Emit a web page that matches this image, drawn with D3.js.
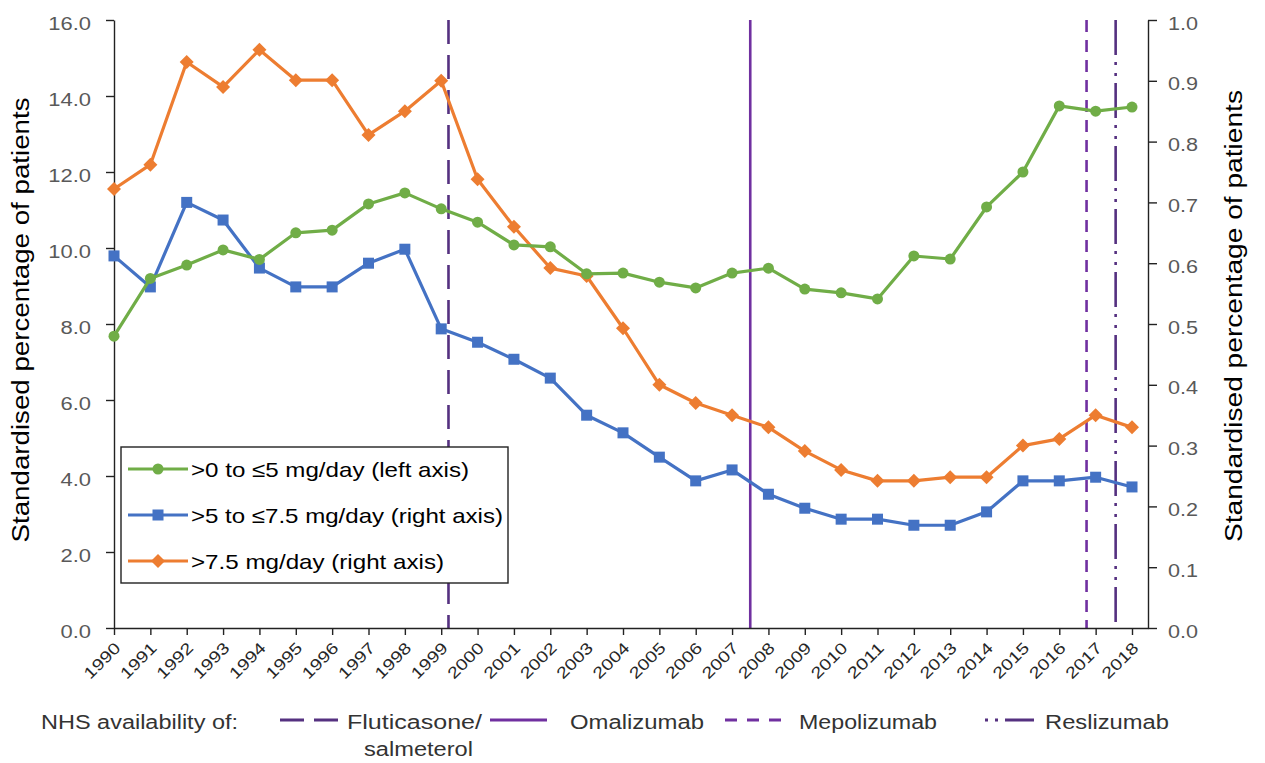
<!DOCTYPE html>
<html><head><meta charset="utf-8">
<script src="https://cdn.jsdelivr.net/npm/d3@7"></script>
<style>body{margin:0;background:#fff}svg{font-family:"Liberation Sans",Arial,sans-serif}</style>
</head><body><svg id="c" width="1265" height="763"></svg>
<script>
const years = d3.range(1990, 2019);
const lowDose = [7.68,9.2,9.55,9.95,9.7,10.4,10.47,11.16,11.45,11.03,10.68,10.08,10.03,9.32,9.34,9.1,8.95,9.34,9.47,8.92,8.82,8.66,9.79,9.71,11.08,12.0,13.74,13.6,13.71];
const midDose = [0.612,0.561,0.70,0.671,0.592,0.561,0.561,0.60,0.623,0.492,0.47,0.442,0.411,0.35,0.321,0.281,0.242,0.26,0.22,0.197,0.179,0.179,0.169,0.169,0.191,0.242,0.242,0.248,0.232];
const highDose = [0.722,0.762,0.931,0.89,0.951,0.901,0.901,0.811,0.85,0.90,0.738,0.66,0.592,0.579,0.493,0.40,0.37,0.35,0.33,0.291,0.26,0.242,0.242,0.248,0.248,0.30,0.311,0.35,0.33];
const leftTicks = [0,2,4,6,8,10,12,14,16];
const rightTicks = [0,0.1,0.2,0.3,0.4,0.5,0.6,0.7,0.8,0.9,1.0];
const seriesNames = [">0 to \u22645 mg/day (left axis)", ">5 to \u22647.5 mg/day (right axis)", ">7.5 mg/day (right axis)"];
const drugNames = ["Fluticasone/","salmeterol","Omalizumab","Mepolizumab","Reslizumab"];
const drugDates = [1999.2, 2007.5, 2016.75, 2017.55];

const svg = d3.select("#c");
const L=114, R=1148, T=20, B=628;
const x = d3.scaleLinear().domain([1990, 2018.44]).range([L, R]);
const yL = d3.scaleLinear().domain([0,16]).range([B,T]);
const yR = d3.scaleLinear().domain([0,1]).range([B,T]);
const purple = "#7030A0", darkPurple = "#553180";
const vColors = [darkPurple, purple, purple, darkPurple];
const dashes = ["24,11", null, "12,8", "35,7,3,8,3,7"];

function stretch(sel, k){
  sel.each(function(){ const w=this.getComputedTextLength();
    d3.select(this).attr("textLength", w*k).attr("lengthAdjust","spacingAndGlyphs"); });
}
function fitW(sel, w){ sel.attr("textLength", w).attr("lengthAdjust","spacingAndGlyphs"); }

// vertical lines
drugDates.forEach((d,i)=>{
  svg.append("line").attr("x1",x(d)).attr("x2",x(d)).attr("y1",T).attr("y2",B)
    .attr("stroke",vColors[i]).attr("stroke-width",2.6).attr("stroke-dasharray",dashes[i]);
});

// axes
const axL = svg.append("g").attr("transform",`translate(${L},0)`)
  .call(d3.axisLeft(yL).tickValues(leftTicks).tickFormat(d3.format(".1f")).tickSize(8).tickSizeOuter(0));
const axR = svg.append("g").attr("transform",`translate(${R},0)`)
  .call(d3.axisRight(yR).tickValues(rightTicks).tickFormat(d3.format(".1f")).tickSize(9).tickSizeOuter(0));
const axB = svg.append("g").attr("transform",`translate(0,${B})`)
  .call(d3.axisBottom(x).tickValues(years).tickFormat(d3.format("d")).tickSize(7).tickSizeOuter(0));
[axL,axR,axB].forEach(a=>{a.select(".domain").attr("stroke","#222").attr("stroke-width",1.4);
  a.selectAll(".tick line").attr("stroke","#222").attr("stroke-width",1.4);});
axL.selectAll("text").attr("font-size",18).attr("fill","#595959").attr("x",-23).attr("dy","0.5em").style("font-family","Liberation Sans, Arial").call(stretch,1.22);
axR.selectAll("text").attr("font-size",18).attr("fill","#595959").attr("x",20).attr("dy","0.5em").style("font-family","Liberation Sans, Arial").call(stretch,1.2);
axB.selectAll("text").attr("font-size",16).attr("fill","#262626").attr("text-anchor","end")
  .attr("x",0).attr("y",0).attr("dy","0.35em")
  .attr("transform","translate(3,17) rotate(-45)").style("font-family","Liberation Sans, Arial").call(fitW,44);

// axis titles
svg.append("text").attr("transform",`translate(29,320) rotate(-90)`).attr("text-anchor","middle")
  .attr("font-size",23).attr("fill","#000").text("Standardised percentage of patients").call(fitW,445);
svg.append("text").attr("transform",`translate(1242,316) rotate(-90)`).attr("text-anchor","middle")
  .attr("font-size",23).attr("fill","#000").text("Standardised percentage of patients").call(fitW,452);

// series
const series = [
  {vals: lowDose, y: yL, color:"#70AD47", shape:"circle"},
  {vals: midDose, y: yR, color:"#4472C4", shape:"square"},
  {vals: highDose, y: yR, color:"#ED7D31", shape:"diamond"}
];
function marker(g, shape, color, cx, cy){
  if(shape==="circle") g.append("circle").attr("cx",cx).attr("cy",cy).attr("r",5.5).attr("fill",color);
  else if(shape==="square") g.append("rect").attr("x",cx-5.5).attr("y",cy-5.5).attr("width",11).attr("height",11).attr("fill",color);
  else g.append("path").attr("d",`M${cx},${cy-7}L${cx+7},${cy}L${cx},${cy+7}L${cx-7},${cy}Z`).attr("fill",color);
}
series.slice().reverse().forEach(s=>{
  const line = d3.line().x((d,i)=>x(years[i])).y(d=>s.y(d));
  svg.append("path").datum(s.vals).attr("d",line).attr("fill","none").attr("stroke",s.color).attr("stroke-width",3.2).attr("stroke-linejoin","round");
  const g = svg.append("g");
  s.vals.forEach((v,i)=>marker(g,s.shape,s.color,x(years[i]),s.y(v)));
});

// legend box
const lg = svg.append("g");
lg.append("rect").attr("x",121).attr("y",447).attr("width",387).attr("height",136).attr("fill","#fff").attr("stroke","#222").attr("stroke-width",1.4);
const ly = [469,515,561];
const lw = [278,312,253];
series.forEach((s,i)=>{
  lg.append("line").attr("x1",128).attr("x2",188).attr("y1",ly[i]).attr("y2",ly[i]).attr("stroke",s.color).attr("stroke-width",3.2);
  marker(lg,s.shape,s.color,158,ly[i]);
  lg.append("text").attr("x",191).attr("y",ly[i]).attr("dy","0.36em").attr("font-size",21).attr("fill","#000").text(seriesNames[i]).call(fitW,lw[i]);
});

// bottom legend
const by = 729;
const bfs = 20, bcol = "#333";
svg.append("text").attr("x",41).attr("y",by).attr("font-size",bfs).attr("fill",bcol).text("NHS availability of:").call(fitW,197);
const bl = [{x1:280,x2:338},{x1:490,x2:547},{x1:725,x2:781},{x1:984,x2:1034}];
const bdash = ["24,10", null, "12,10", "0,1,3,7,3,7,40"];
bl.forEach((b,i)=>{
  svg.append("line").attr("x1",b.x1).attr("x2",b.x2).attr("y1",by-9).attr("y2",by-9).attr("stroke",vColors[i]).attr("stroke-width",2.8).attr("stroke-dasharray",bdash[i]);
});
const bt = [{t:0,x:347,y:by,w:135},{t:1,x:364,y:by+27,w:109},{t:2,x:570,y:by,w:134},{t:3,x:799,y:by,w:138},{t:4,x:1045,y:by,w:124}];
bt.forEach(b=>{
  svg.append("text").attr("x",b.x).attr("y",b.y).attr("font-size",bfs).attr("fill",bcol).text(drugNames[b.t]).call(fitW,b.w);
});
</script></body></html>
